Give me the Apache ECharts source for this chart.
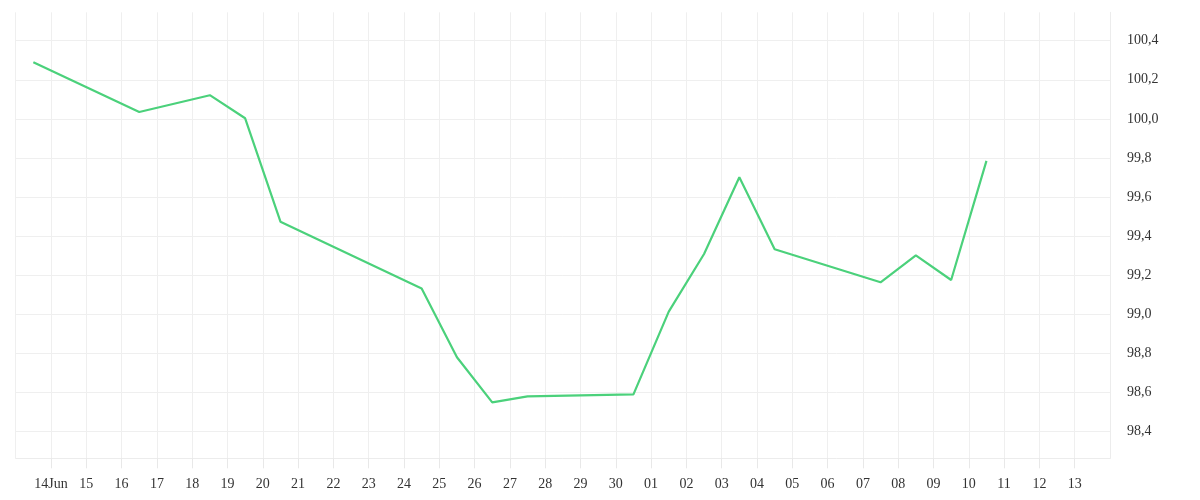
<!DOCTYPE html>
<html>
<head>
<meta charset="utf-8">
<script src="https://cdn.jsdelivr.net/npm/echarts@6/dist/echarts.min.js"></script>
<style>html,body{margin:0;padding:0;background:#fff}#c{width:1200px;height:500px}</style>
</head>
<body>
<div id="c"></div>
<script>
const dates = ['2020-06-13T12:00:00Z','2020-06-16T12:00:00Z','2020-06-18T12:00:00Z','2020-06-19T12:00:00Z','2020-06-20T12:00:00Z','2020-06-24T12:00:00Z','2020-06-25T12:00:00Z','2020-06-26T12:00:00Z','2020-06-27T12:00:00Z','2020-06-30T12:00:00Z','2020-07-01T12:00:00Z','2020-07-02T12:00:00Z','2020-07-03T12:00:00Z','2020-07-04T12:00:00Z','2020-07-07T12:00:00Z','2020-07-08T12:00:00Z','2020-07-09T12:00:00Z','2020-07-10T12:00:00Z'];
const values = [100.29,100.035,100.121,100.003,99.474,99.133,98.781,98.55,98.581,98.591,99.014,99.309,99.701,99.333,99.164,99.302,99.176,99.785];
const yTicks = [98.4,98.6,98.8,99.0,99.2,99.4,99.6,99.8,100.0,100.2,100.4];
const xStart = '2020-06-13T00:00:00Z';
const xEnd = '2020-07-14T00:00:00Z';
const DAY = 86400000;

const data = dates.map((d, i) => [Date.parse(d), values[i]]);
const font = 'Liberation Serif';
const chart = echarts.init(document.getElementById('c'));
chart.setOption({
  animation: false,
  grid: {left: 15.7, right: 90, top: 12.3, bottom: 41.7, containLabel: false},
  xAxis: {
    type: 'value',
    min: Date.parse(xStart),
    max: Date.parse(xEnd),
    interval: DAY,
    axisLine: {show: true, lineStyle: {color: '#ececec', width: 1}},
    axisTick: {show: true, length: 10, lineStyle: {color: '#e8e8e8'}},
    splitLine: {show: true, lineStyle: {color: '#efefef', width: 1}},
    axisLabel: {
      showMinLabel: false, showMaxLabel: false,
      margin: 19,
      fontFamily: font, fontSize: 14, color: '#333',
      formatter: function (v) {
        const d = new Date(v);
        const day = d.getUTCDate();
        const s = (day < 10 ? '0' : '') + day;
        if (d.getUTCMonth() === 5 && day === 14) return s + 'Jun';
        return s;
      }
    }
  },
  yAxis: {
    type: 'value',
    position: 'right',
    min: 98.264,
    max: 100.545,
    axisLine: {show: true, lineStyle: {color: '#ececec'}},
    axisTick: {show: false, customValues: yTicks},
    splitLine: {show: true, lineStyle: {color: '#efefef', width: 1}},
    axisLabel: {
      customValues: yTicks,
      margin: 17,
      padding: [6, 0, 0, 0],
      fontFamily: font, fontSize: 14, color: '#333',
      formatter: function (v) { return v.toFixed(1).replace('.', ','); }
    }
  },
  series: [{
    type: 'line',
    data: data,
    showSymbol: false,
    symbol: 'none',
    lineStyle: {color: '#4bd17b', width: 2.2},
    itemStyle: {color: '#4bd17b'}
  }]
});
</script>
</body>
</html>
